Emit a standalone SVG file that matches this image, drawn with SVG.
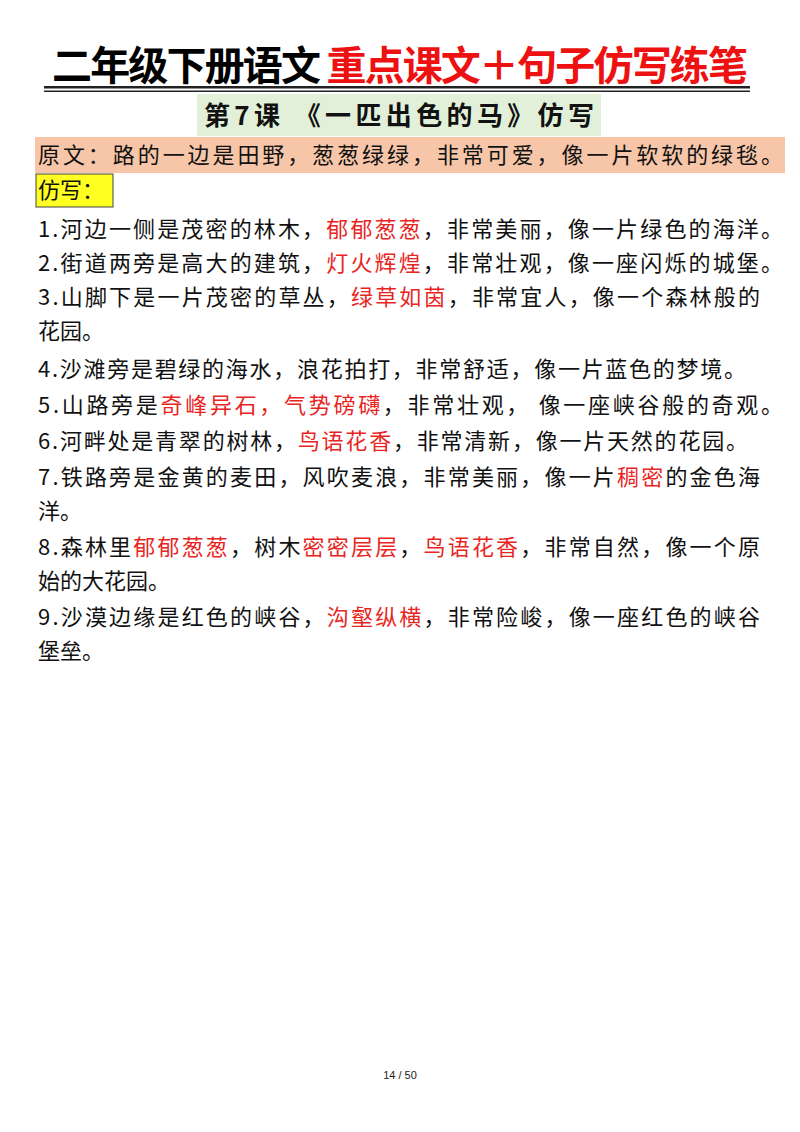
<svg xmlns="http://www.w3.org/2000/svg" width="800" height="1132" viewBox="0 0 800 1132">
<style>
.t{font-family:"Noto Sans CJK SC","Liberation Sans",sans-serif;font-size:22px;fill:#111}
.r{fill:#e8261f}
</style>
<rect width="800" height="1132" fill="#fff"/>
<g id="title">
<text x="52" y="80" font-family="Noto Sans CJK SC,sans-serif" font-weight="bold" font-size="40" textLength="696" lengthAdjust="spacing"><tspan fill="#000">二年级下册语文 </tspan><tspan fill="#ee1111">重点课文＋句子仿写练笔</tspan></text>
<rect x="44" y="86" width="706" height="2.5" fill="#222"/>
<rect x="44" y="90.5" width="706" height="1.5" fill="#222"/>
</g>
<g id="subtitle">
<rect x="197" y="94" width="404" height="42" fill="#e2f0d9"/>
<text x="204" y="125" font-family="Noto Sans CJK SC,sans-serif" font-weight="bold" font-size="26" fill="#111" textLength="390" lengthAdjust="spacing">第7课  《一匹出色的马》仿写</text>
</g>
<g id="original">
<rect x="35" y="137" width="750" height="36" fill="#f7c6a8"/>
<text class="t" x="38" y="163" textLength="745" lengthAdjust="spacing">原文：路的一边是田野，葱葱绿绿，非常可爱，像一片软软的绿毯。</text>
</g>
<g id="label">
<rect x="36" y="174" width="77" height="33" fill="#ffff22" stroke="#444" stroke-width="1"/>
<text class="t" x="38" y="198">仿写：</text>
</g>
<g id="lines">
<text class="t" x="38" y="237" textLength="745" lengthAdjust="spacing">1.河边一侧是茂密的林木，<tspan class="r">郁郁葱葱</tspan>，非常美丽，像一片绿色的海洋。</text>
<text class="t" x="38" y="271" textLength="745" lengthAdjust="spacing">2.街道两旁是高大的建筑，<tspan class="r">灯火辉煌</tspan>，非常壮观，像一座闪烁的城堡。</text>
<text class="t" x="38" y="305" textLength="722" lengthAdjust="spacing">3.山脚下是一片茂密的草丛，<tspan class="r">绿草如茵</tspan>，非常宜人，像一个森林般的</text>
<text class="t" x="38" y="339">花园。</text>
<text class="t" x="38" y="377" textLength="708" lengthAdjust="spacing">4.沙滩旁是碧绿的海水，浪花拍打，非常舒适，像一片蓝色的梦境。</text>
<text class="t" x="38" y="413" textLength="745" lengthAdjust="spacing">5.山路旁是<tspan class="r">奇峰异石，气势磅礴</tspan>，非常壮观，  像一座峡谷般的奇观。</text>
<text class="t" x="38" y="449" textLength="710" lengthAdjust="spacing">6.河畔处是青翠的树林，<tspan class="r">鸟语花香</tspan>，非常清新，像一片天然的花园。</text>
<text class="t" x="38" y="485" textLength="722" lengthAdjust="spacing">7.铁路旁是金黄的麦田，风吹麦浪，非常美丽，像一片<tspan class="r">稠密</tspan>的金色海</text>
<text class="t" x="38" y="519">洋。</text>
<text class="t" x="38" y="555" textLength="722" lengthAdjust="spacing">8.森林里<tspan class="r">郁郁葱葱</tspan>，树木<tspan class="r">密密层层</tspan>，<tspan class="r">鸟语花香</tspan>，非常自然，像一个原</text>
<text class="t" x="38" y="589">始的大花园。</text>
<text class="t" x="38" y="625" textLength="722" lengthAdjust="spacing">9.沙漠边缘是红色的峡谷，<tspan class="r">沟壑纵横</tspan>，非常险峻，像一座红色的峡谷</text>
<text class="t" x="38" y="659">堡垒。</text>
</g>
<text x="400" y="1079" text-anchor="middle" font-family="Liberation Sans,sans-serif" font-size="11" fill="#222">14 / 50</text>
</svg>
